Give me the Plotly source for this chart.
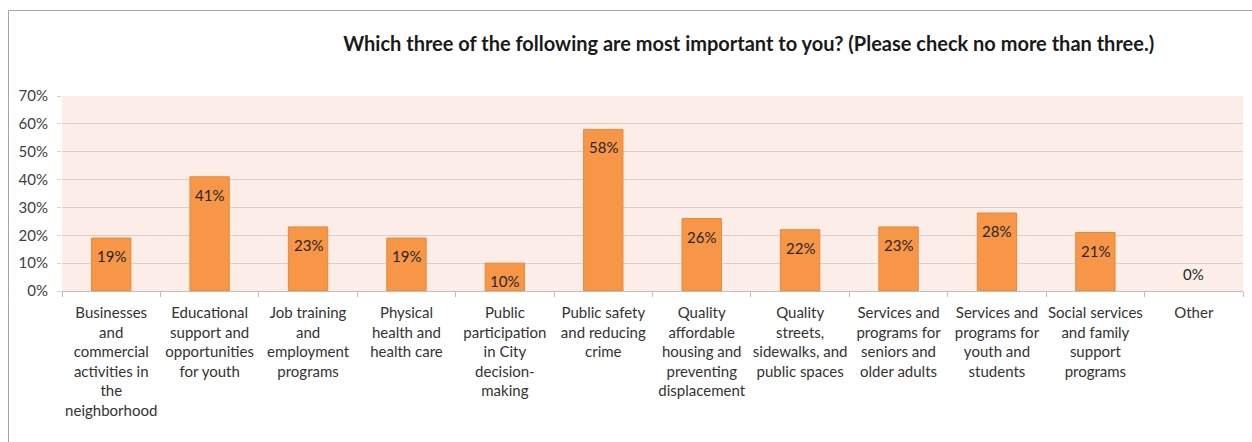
import plotly.graph_objects as go

categories = [
    "Businesses<br>and<br>commercial<br>activities in<br>the<br>neighborhood",
    "Educational<br>support and<br>opportunities<br>for youth",
    "Job training<br>and<br>employment<br>programs",
    "Physical<br>health and<br>health care",
    "Public<br>participation<br>in City<br>decision-<br>making",
    "Public safety<br>and reducing<br>crime",
    "Quality<br>affordable<br>housing and<br>preventing<br>displacement",
    "Quality<br>streets,<br>sidewalks, and<br>public spaces",
    "Services and<br>programs for<br>seniors and<br>older adults",
    "Services and<br>programs for<br>youth and<br>students",
    "Social services<br>and family<br>support<br>programs",
    "Other",
]
values = [0.19, 0.41, 0.23, 0.19, 0.10, 0.58, 0.26, 0.22, 0.23, 0.28, 0.21, 0.0]
y_ticks = [0, 0.1, 0.2, 0.3, 0.4, 0.5, 0.6, 0.7]
y_tick_labels = ["0%", "10%", "20%", "30%", "40%", "50%", "60%", "70%"]
title = "Which three of the following are most important to you? (Please check no more than three.)"

font = "Lato, Carlito, Calibri, sans-serif"

fig = go.Figure()
fig.add_trace(go.Bar(
    x=categories,
    y=values,
    marker=dict(color="#f79646",
                line=dict(color="#e58a3c", width=[1 if v > 0 else 0 for v in values])),
    width=0.4,
    hoverinfo="x+y",
))

annotations = []
for c, v in zip(categories, values):
    annotations.append(dict(
        x=c, y=v, xref="x", yref="y",
        text=f"{round(v*100)}%", showarrow=False,
        yshift=-18 if v > 0 else 17,
        font=dict(family=font, size=15, color="#262626"),
    ))

fig.update_layout(
    width=1252, height=442,
    margin=dict(l=62, r=9, t=96, b=151),
    paper_bgcolor="white",
    plot_bgcolor="#fcede8",
    showlegend=False,
    annotations=annotations,
    title=dict(text="<b>" + title + "</b>", x=0.598, xref="container", xanchor="center",
               y=1 - 44/442, yref="container", yanchor="middle",
               font=dict(family=font, size=20, color="#1a1a1a")),
    shapes=[dict(type="rect", xref="paper", yref="paper",
                 x0=(8.5-62)/1181, x1=1.1, y0=-1.0, y1=(291-10.5)/195,
                 line=dict(color="#a6a6a6", width=1), fillcolor="rgba(0,0,0,0)", layer="below")],
)
fig.update_xaxes(
    tickfont=dict(family=font, size=15, color="#333333"),
    tickangle=0, automargin=False,
    ticks="outside", tickson="boundaries", ticklen=5, tickcolor="#bfbfbf",
    showline=True, linecolor="#bfbfbf", linewidth=1,
    showgrid=False,
    ticklabelstandoff=8,
)
fig.update_yaxes(
    range=[0, 0.7], automargin=False,
    tickvals=y_ticks, ticktext=y_tick_labels,
    tickfont=dict(family=font, size=15, color="#404040"),
    gridcolor="#d9d0cc", gridwidth=1,
    ticks="outside", ticklen=4, tickcolor="#d9d0cc",
    zeroline=False,
    ticklabelstandoff=6,
)

fig.write_html("out.html")
